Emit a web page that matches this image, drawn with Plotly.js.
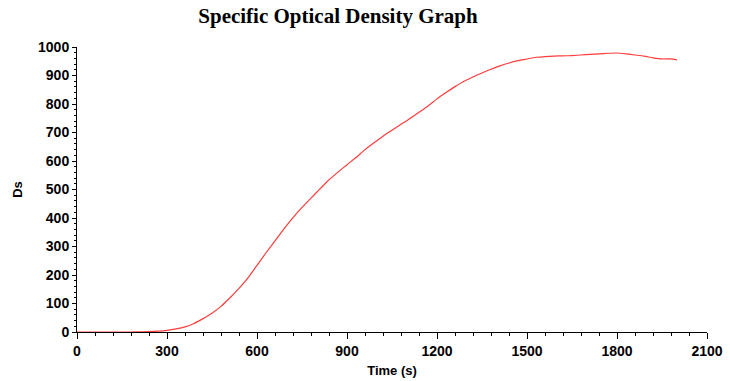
<!DOCTYPE html>
<html>
<head>
<meta charset="utf-8">
<script src="https://cdn.plot.ly/plotly-3.0.1.min.js"></script>
<style>html,body{margin:0;padding:0;background:#fff;}#chart{width:730px;height:381px;}</style>
</head>
<body>
<div id="chart"></div>
<script>
const timeS = [0,30,60,90,120,150,180,210,240,270,300,330,360,390,420,450,480,510,540,570,600,630,660,690,720,750,780,810,840,870,900,930,960,990,1020,1050,1080,1110,1140,1170,1200,1230,1260,1290,1320,1350,1380,1410,1440,1470,1500,1530,1560,1590,1620,1650,1680,1710,1740,1770,1800,1830,1860,1890,1920,1950,1980,2000];
const ds = [0,0,0,0,0,0,0,0.5,1,3,6,11,18,30,47,66,90,120,153,190,234,278,320,362,401,437,470,502,534,561,587,612,640,664,687,708,729,749,771,793,818,840,861,880,895,909,922,934,944,952,958,964,966,968,969,970,972,974,976,978,979,976,972,968,962,958,958,955];
const xTicks = [0,300,600,900,1200,1500,1800,2100];
const yTicks = [0,100,200,300,400,500,600,700,800,900,1000];

const tickFont = {family:'Liberation Sans, Arial, sans-serif', size:14, color:'#000', weight:'bold'};
Plotly.newPlot('chart', [{
  x: timeS, y: ds, type:'scatter', mode:'lines',
  line:{color:'rgb(255,60,60)', width:1.2, shape:'spline', smoothing:0.6}, hoverinfo:'none'
}], {
  width:730, height:381,
  margin:{l:77, r:23, t:47, b:49},
  paper_bgcolor:'#fff', plot_bgcolor:'#fff',
  showlegend:false,
  title:{text:'Specific Optical Density Graph', x:338/730, xanchor:'center', xref:'container', y:1-16/381, yanchor:'middle', yref:'container',
    font:{family:'Liberation Serif, Times New Roman, serif', size:21, color:'#000', weight:'bold'}},
  xaxis:{range:[0,2100], tickvals:xTicks, ticktext:xTicks.map(String), showgrid:false, zeroline:false,
    showline:true, linecolor:'#000', linewidth:1, ticks:'outside', ticklen:6, tickcolor:'#000', tickwidth:1,
    tickfont:tickFont, automargin:false,
    minor:{dtick:60, ticks:'outside', ticklen:3, tickcolor:'#000', tickwidth:1, showgrid:false},
    title:{text:'Time (s)', standoff:8, font:{family:'Liberation Sans, Arial, sans-serif', size:13, color:'#000', weight:'bold'}}},
  yaxis:{range:[0,1000], tickvals:yTicks, ticktext:yTicks.map(String), showgrid:false, zeroline:false,
    showline:true, linecolor:'#000', linewidth:1, ticks:'outside', ticklen:4, tickcolor:'#000', tickwidth:1,
    tickfont:tickFont, automargin:false,
    minor:{dtick:20, ticks:'outside', ticklen:2, tickcolor:'#000', tickwidth:1, showgrid:false},
    title:{text:'Ds', standoff:12, font:{family:'Liberation Sans, Arial, sans-serif', size:13, color:'#000', weight:'bold'}}}
}, {displayModeBar:false, staticPlot:true});
</script>
</body>
</html>
